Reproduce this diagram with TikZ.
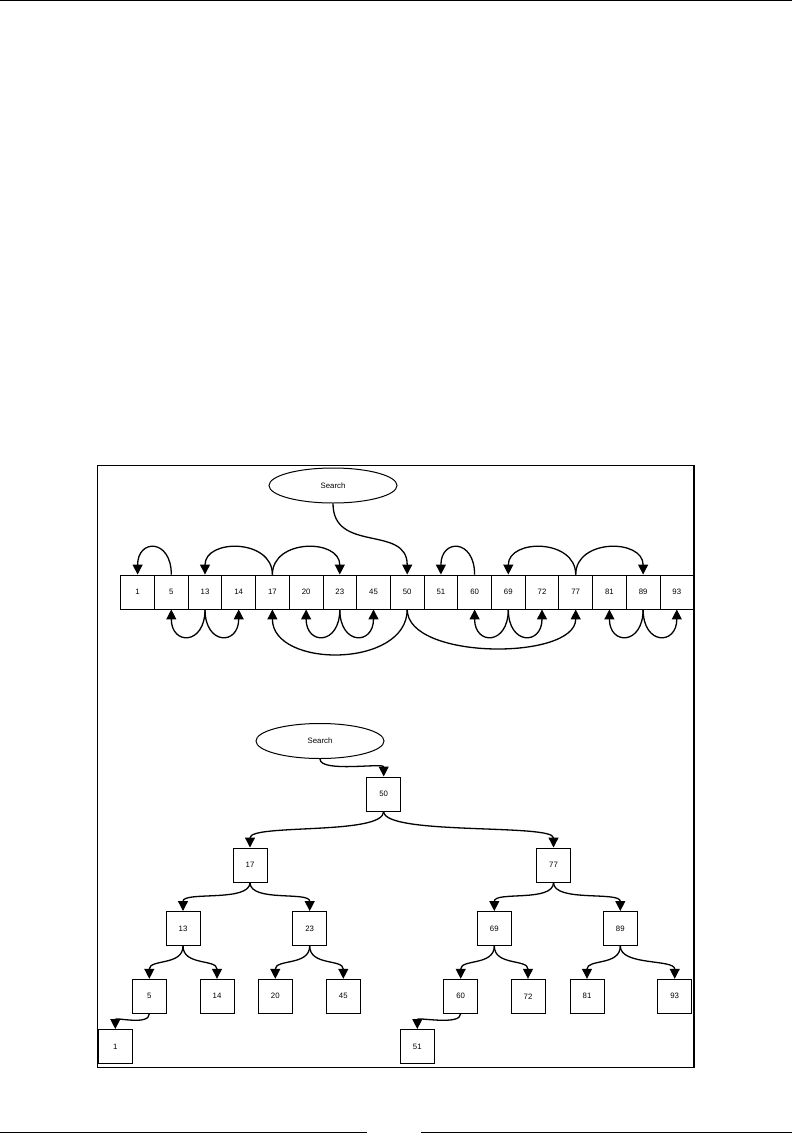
\documentclass[tikz,border=0pt]{standalone}
\usepackage{fontspec}
\setmainfont{Liberation Sans}
\usetikzlibrary{arrows.meta,shapes.geometric}

\tikzset{
    feld/.style={rectangle, draw, line width=0.9pt, minimum width=33.7pt, minimum height=34pt, inner sep=0pt, font=\fontsize{7.8}{9}\selectfont},
    knoten/.style={rectangle, draw, line width=1pt, minimum width=34pt, minimum height=34pt, inner sep=0pt, font=\fontsize{7.8}{9}\selectfont},
    suche/.style={ellipse, draw, line width=1pt, minimum width=128pt, minimum height=35pt, inner sep=0pt, font=\fontsize{7.8}{9}\selectfont},
    pfeil/.style={line width=1.3pt, -{Triangle[length=10pt, width=10pt]}}
}

\begin{document}
\begin{tikzpicture}[x=1pt, y=-1pt]
    \useasboundingbox (0,0) rectangle (792,1142);
    % Seitenlinien und Rahmen
    \draw[line width=1.5pt] (0,0.75) -- (792,0.75);
    \draw[line width=1.5pt] (0,1132.3) -- (366.7,1132.3);
    \draw[line width=1.5pt] (421.3,1132.3) -- (792,1132.3);
    \draw[line width=1.4pt] (97.3,465.3) rectangle (694,1067.3);

    % Feld
    \path node[suche] (S1) at (333,485.5) {Search}
        node[feld] (f1) at (137.6,592) {1}
        node[feld] (f5) at (171.3,592) {5}
        node[feld] (f13) at (205,592) {13}
        node[feld] (f14) at (238.7,592) {14}
        node[feld] (f17) at (272.4,592) {17}
        node[feld] (f20) at (306.1,592) {20}
        node[feld] (f23) at (339.8,592) {23}
        node[feld] (f45) at (373.5,592) {45}
        node[feld] (f50) at (407.2,592) {50}
        node[feld] (f51) at (440.9,592) {51}
        node[feld] (f60) at (474.6,592) {60}
        node[feld] (f69) at (508.3,592) {69}
        node[feld] (f72) at (542,592) {72}
        node[feld] (f77) at (575.7,592) {77}
        node[feld] (f81) at (609.4,592) {81}
        node[feld] (f89) at (643.1,592) {89}
        node[feld] (f93) at (676.8,592) {93};
    \draw[pfeil] (S1.south) .. controls +(0,50) and +(0,-50) .. (f50.north);
    \draw[pfeil] (f5.north) .. controls +(0,-36) and +(0,-36) .. (f1.north);
    \draw[pfeil] (f17.north) .. controls +(0,-36) and +(0,-36) .. (f13.north);
    \draw[pfeil] (f17.north) .. controls +(0,-36) and +(0,-36) .. (f23.north);
    \draw[pfeil] (f60.north) .. controls +(0,-36) and +(0,-36) .. (f51.north);
    \draw[pfeil] (f77.north) .. controls +(0,-36) and +(0,-36) .. (f69.north);
    \draw[pfeil] (f77.north) .. controls +(0,-36) and +(0,-36) .. (f89.north);
    \draw[pfeil] (f13.south) .. controls +(0,36) and +(0,36) .. (f5.south);
    \draw[pfeil] (f13.south) .. controls +(0,36) and +(0,36) .. (f14.south);
    \draw[pfeil] (f23.south) .. controls +(0,36) and +(0,36) .. (f20.south);
    \draw[pfeil] (f23.south) .. controls +(0,36) and +(0,36) .. (f45.south);
    \draw[pfeil] (f50.south) .. controls +(0,59) and +(0,59) .. (f17.south);
    \draw[pfeil] (f50.south) .. controls +(0,51) and +(0,51) .. (f77.south);
    \draw[pfeil] (f69.south) .. controls +(0,36) and +(0,36) .. (f60.south);
    \draw[pfeil] (f69.south) .. controls +(0,36) and +(0,36) .. (f72.south);
    \draw[pfeil] (f89.south) .. controls +(0,36) and +(0,36) .. (f81.south);
    \draw[pfeil] (f89.south) .. controls +(0,36) and +(0,36) .. (f93.south);

    % Baum
    \path node[suche] (S2) at (320,741) {Search}
        node[knoten] (t50) at (383.7,794) {50}
        node[knoten] (t17) at (250,865) {17}
        node[knoten] (t77) at (553.5,865) {77}
        node[knoten] (t13) at (183,928.5) {13}
        node[knoten] (t23) at (309.7,928.5) {23}
        node[knoten] (t69) at (494.3,928.5) {69}
        node[knoten] (t89) at (620.3,928.5) {89}
        node[knoten] (t5) at (149.3,996.3) {5}
        node[knoten] (t14) at (217,996.3) {14}
        node[knoten] (t20) at (275.3,996.3) {20}
        node[knoten] (t45) at (343.3,996.3) {45}
        node[knoten] (t60) at (460.7,996.3) {60}
        node[knoten] (t72) at (528,996.3) {72}
        node[knoten] (t81) at (587,996.3) {81}
        node[knoten] (t93) at (674.7,996.3) {93}
        node[knoten] (t1) at (115.3,1046.5) {1}
        node[knoten] (t51) at (417.3,1046.5) {51};
    \draw[pfeil] (S2.south) .. controls +(0,14) and +(0,-14) .. (t50.north);
    \draw[pfeil] (t50.south) .. controls +(0,24) and +(0,-24) .. (t17.north);
    \draw[pfeil] (t50.south) .. controls +(0,24) and +(0,-24) .. (t77.north);
    \draw[pfeil] (t17.south) .. controls +(0,20) and +(0,-20) .. (t13.north);
    \draw[pfeil] (t17.south) .. controls +(0,20) and +(0,-20) .. (t23.north);
    \draw[pfeil] (t77.south) .. controls +(0,20) and +(0,-20) .. (t69.north);
    \draw[pfeil] (t77.south) .. controls +(0,20) and +(0,-20) .. (t89.north);
    \draw[pfeil] (t13.south) .. controls +(0,20) and +(0,-20) .. (t5.north);
    \draw[pfeil] (t13.south) .. controls +(0,20) and +(0,-20) .. (t14.north);
    \draw[pfeil] (t23.south) .. controls +(0,20) and +(0,-20) .. (t20.north);
    \draw[pfeil] (t23.south) .. controls +(0,20) and +(0,-20) .. (t45.north);
    \draw[pfeil] (t69.south) .. controls +(0,20) and +(0,-20) .. (t60.north);
    \draw[pfeil] (t69.south) .. controls +(0,20) and +(0,-20) .. (t72.north);
    \draw[pfeil] (t89.south) .. controls +(0,20) and +(0,-20) .. (t81.north);
    \draw[pfeil] (t89.south) .. controls +(0,20) and +(0,-20) .. (t93.north);
    \draw[pfeil] (t5.south) .. controls +(0,12) and +(0,-12) .. (t1.north);
    \draw[pfeil] (t60.south) .. controls +(0,12) and +(0,-12) .. (t51.north);
\end{tikzpicture}
\end{document}
